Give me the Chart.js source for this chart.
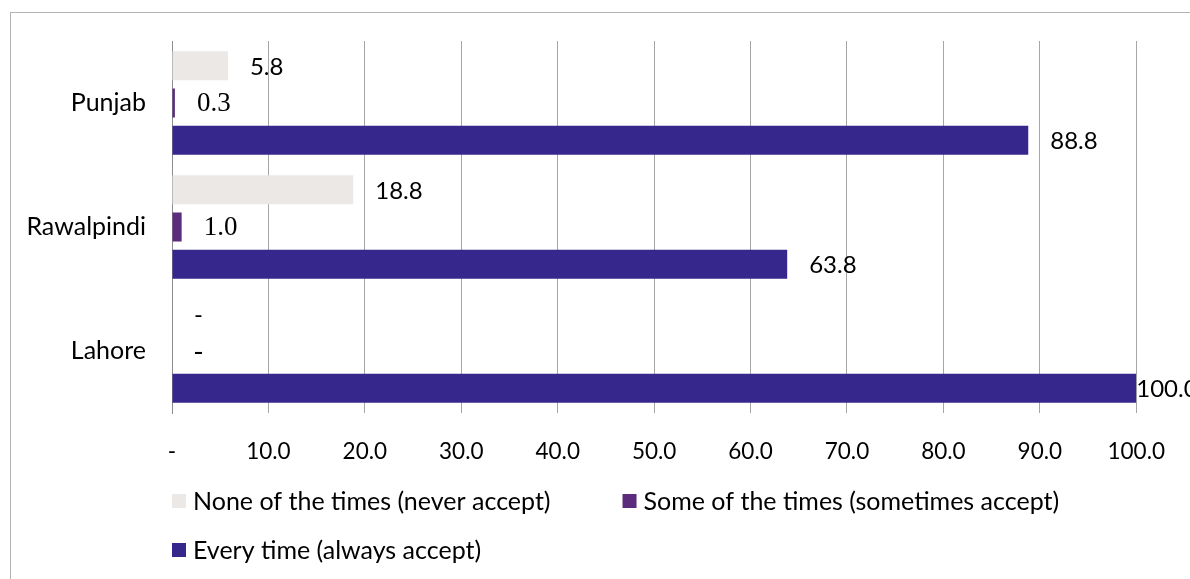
<!DOCTYPE html>
<html>
<head>
<meta charset="utf-8">
<script src="https://cdn.jsdelivr.net/npm/chart.js@4/dist/chart.umd.min.js"></script>
<style>
  html, body { margin: 0; padding: 0; background: #fff; }
  #wrap { position: relative; width: 1190px; height: 579px; }
</style>
</head>
<body>
<div id="wrap"><canvas id="c" width="1190" height="579"></canvas></div>
<script>
// Categories (top to bottom) and series values, percent
const regions = ['Punjab', 'Rawalpindi', 'Lahore'];
const seriesNames = [
  'None of the times (never accept)',
  'Some of the times (sometimes accept)',
  'Every time (always accept)'
];
const neverAccept = [5.8, 18.8, 0];
const sometimesAccept = [0.3, 1.0, 0];
const alwaysAccept = [88.8, 63.8, 100.0];
const xTicks = [0, 10, 20, 30, 40, 50, 60, 70, 80, 90, 100];

const SANS = 'Lato, "Open Sans", sans-serif';
const SERIF = '"Liberation Serif", "DejaVu Serif", serif';
const colors = ['#EBE8E5', '#5B2C7B', '#35278B'];
const labelFonts = ['24px ' + SANS, '27px ' + SERIF, '24px ' + SANS];

const fmt = v => (v === 0 ? '-' : v.toFixed(1));

// Thin grey frame around the whole figure
const framePlugin = {
  id: 'frame',
  beforeDraw(chart) {
    const ctx = chart.ctx;
    ctx.save();
    ctx.strokeStyle = '#B4B4B4';
    ctx.lineWidth = 1;
    ctx.strokeRect(10.5, 12.5, chart.width + 20, chart.height + 20);
    ctx.restore();
  }
};

// Value labels just past the end of each bar
const valueLabels = {
  id: 'valueLabels',
  afterDatasetsDraw(chart) {
    const ctx = chart.ctx;
    const area = chart.chartArea;
    ctx.save();
    ctx.textBaseline = 'middle';
    ctx.textAlign = 'left';
    ctx.fillStyle = '#000';
    chart.data.datasets.forEach((ds, i) => {
      const meta = chart.getDatasetMeta(i);
      ctx.font = labelFonts[i];
      meta.data.forEach((bar, j) => {
        const x = Math.min(bar.x + 22, area.right);
        ctx.fillText(fmt(ds.data[j]), x, bar.y + 1);
      });
    });
    ctx.restore();
  }
};

// Legend laid out in two rows under the axis
const legendRows = {
  id: 'legendRows',
  afterDraw(chart) {
    const ctx = chart.ctx;
    ctx.save();
    ctx.font = '25px ' + SANS;
    ctx.textBaseline = 'middle';
    ctx.fillStyle = '#000';
    const left = 172;
    const rows = [501, 550];
    const box = 14;
    let x = left, row = 0;
    chart.data.datasets.forEach((ds, i) => {
      if (i === 2) { x = left; row = 1; }
      const y = rows[row];
      ctx.fillStyle = ds.backgroundColor;
      ctx.fillRect(x, y - box / 2, box, box);
      ctx.fillStyle = '#000';
      ctx.fillText(ds.label, x + box + 7, y + 1);
      x += box + 7 + ctx.measureText(ds.label).width + 72;
    });
    ctx.restore();
  }
};

const seriesValues = [neverAccept, sometimesAccept, alwaysAccept];

new Chart(document.getElementById('c'), {
  type: 'bar',
  data: {
    labels: regions,
    datasets: seriesNames.map((name, i) => ({
      label: name,
      data: seriesValues[i],
      backgroundColor: colors[i],
      borderWidth: 0,
      categoryPercentage: 0.9,
      barPercentage: 0.78
    }))
  },
  options: {
    indexAxis: 'y',
    responsive: false,
    animation: false,
    layout: { padding: { left: 0, right: 52, top: 41, bottom: 106 } },
    plugins: { legend: { display: false }, tooltip: { enabled: false } },
    scales: {
      x: {
        min: 0, max: 100,
        afterBuildTicks(scale) { scale.ticks = xTicks.map(v => ({ value: v })); },
        afterFit(scale) { scale.height = 60; },
        grid: { color: '#A6A6A6', lineWidth: 1, drawTicks: false },
        border: { display: false },
        ticks: {
          padding: 25,
          color: '#000',
          font: { family: SANS, size: 22.5 },
          callback: v => fmt(v)
        }
      },
      y: {
        afterFit(scale) { scale.width = 172; },
        grid: { display: false, drawTicks: false },
        border: { display: true, color: '#8C8C8C', width: 1 },
        ticks: {
          padding: 26,
          color: '#000',
          font: { family: SANS, size: 25 }
        }
      }
    }
  },
  plugins: [framePlugin, valueLabels, legendRows]
});
</script>
</body>
</html>
